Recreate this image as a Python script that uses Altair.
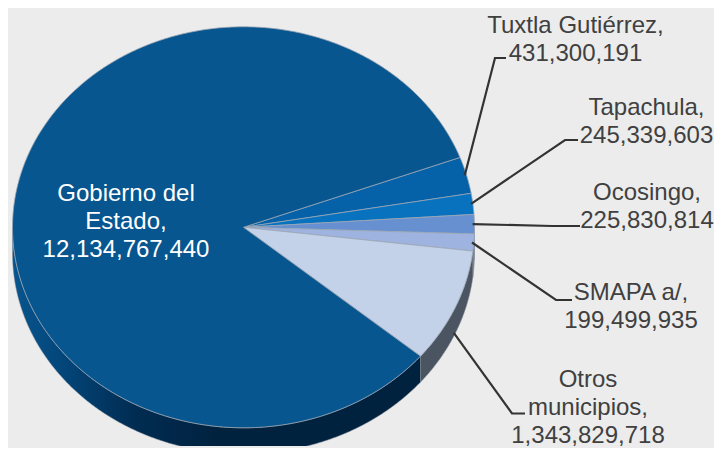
import math
import altair as alt

categories = ["Gobierno del\nEstado", "Tuxtla Gutiérrez", "Tapachula", "Ocosingo", "SMAPA a/", "Otros\nmunicipios"]
values = [12134767440, 431300191, 245339603, 225830814, 199499935, 1343829718]
face_colors = ["#07568F", "#0562A8", "#0872BE", "#6690D0", "#9EB3DF", "#C3D1E9"]
side_colors = ["#00223F", "#02365F", "#033F6E", "#3A5478", "#6E7C96", "#4B5562"]
text_colors = ["#FFFFFF", "#404040", "#404040", "#404040", "#404040", "#404040"]

# page geometry of the drawn ellipse
CX, CY, RX, RY, DEPTH = 243.5, 227.3, 231.0, 200.5, 26.0
START_DEG = 20.4  # first boundary, above the horizontal; slices run clockwise
OFFSET = 8        # page margin
W, H = 706, 438
FONT = "Liberation Sans"
FONT_SIZE = 24

# label centres (first line centre y), leader elbow and end
label_pos = [(126, 193.5), (575.5, 25.5), (646.5, 107.5), (647, 192.5), (631, 292.5), (588, 379.5)]
leaders = [None, [(495, 58), (506, 58)], [(565, 140), (578, 140)], [(552, 226), (580, 226)],
           [(556, 300), (572, 300)], [(512, 413.5), (525, 413.5)]]

total = sum(values)
order = [1, 2, 3, 4, 5, 0]
bounds = {}
a = START_DEG
for i in order:
    sweep = 360.0 * values[i] / total
    bounds[i] = (a, a - sweep)
    a -= sweep


def pt(deg, dy=0.0):
    r = math.radians(deg)
    return [CX + RX * math.cos(r), CY - RY * math.sin(r) + dy]


def arc(a0, a1, dy=0.0):
    n = max(2, int(abs(a0 - a1) * 2))
    return [pt(a0 + (a1 - a0) * k / n, dy) for k in range(n + 1)]


def poly(coords):
    return {"type": "Feature", "properties": {},
            "geometry": {"type": "Polygon", "coordinates": [coords + [coords[0]]]}}


def line(coords):
    return {"type": "Feature", "properties": {},
            "geometry": {"type": "LineString", "coordinates": coords}}


def shape(feature, **kw):
    return alt.Chart(alt.Data(values=[feature])).mark_geoshape(**kw).project(
        type="identity", scale=1, translate=[-OFFSET, -OFFSET])


layers = []

# sides: only the front half of the pie (below the horizontal) shows
gob_gradient = alt.LinearGradient(
    gradient="linear", x1=0, x2=1, y1=0, y2=0,
    stops=[alt.GradientStop(color="#08558E", offset=0),
           alt.GradientStop(color="#03467A", offset=0.12),
           alt.GradientStop(color="#012C52", offset=0.3),
           alt.GradientStop(color="#00223F", offset=0.5),
           alt.GradientStop(color="#00223F", offset=1)])
for i in order:
    a0, a1 = bounds[i]
    if i == 0:
        a1 = -180.0
    a0 = min(a0, 0.0)
    if a0 <= a1:
        continue
    top = arc(a0, a1)
    bottom = arc(a1, a0, DEPTH)
    fill = gob_gradient if i == 0 else side_colors[i]
    layers.append(shape(poly(top + bottom), fill=fill, stroke="#8A929C", strokeWidth=0.5))

# top faces
for i in order:
    a0, a1 = bounds[i]
    layers.append(shape(poly([[CX, CY]] + arc(a0, a1)), fill=face_colors[i],
                        stroke="#9AA6B5", strokeWidth=0.8))

# leader lines, starting on the slice's mid-angle
for i in order:
    if not leaders[i]:
        continue
    mid = sum(bounds[i]) / 2
    start = pt(mid, DEPTH if mid < -15 else 0.0)
    start = [CX + (start[0] - CX) * 0.992, start[1]]
    layers.append(shape(line([start] + [list(p) for p in leaders[i]]), filled=False,
                        stroke="#333333", strokeWidth=2.2))

# labels
for i, cat in enumerate(categories):
    lines = (cat + ",").split("\n") + [f"{values[i]:,}"]
    x, y = label_pos[i]
    layers.append(
        alt.Chart(alt.Data(values=[{"label": lines}])).mark_text(
            font=FONT, fontSize=FONT_SIZE, lineHeight=28, align="center", baseline="middle",
            color=text_colors[i], x=x - OFFSET, y=y - OFFSET
        ).encode(text="label:N")
    )

chart = alt.layer(*layers).properties(
    width=W, height=H, background="#ECECEC", padding=0
).configure_view(stroke=None)

chart.save("out.html", embed_options={"renderer": "svg", "actions": False})
